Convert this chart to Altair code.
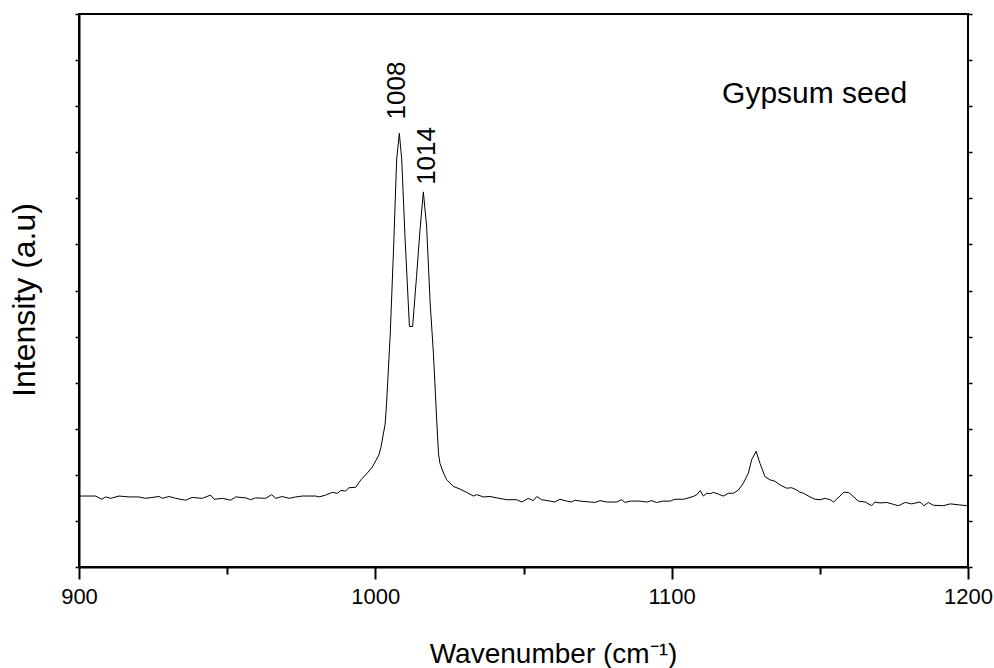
import altair as alt
import pandas as pd

# ---- data (Raman spectrum, gypsum seed) ----
wavenumber = [
    900.0, 905.6, 907.7, 909.0, 910.7, 913.5, 916.9, 920.2, 922.5, 927.0,
    928.1, 930.4, 932.6, 936.0, 938.2, 941.6, 944.4, 945.6, 948.4, 951.2,
    952.9, 956.3, 957.9, 959.6, 963.0, 965.0, 966.4, 968.6, 970.9, 973.1,
    975.4, 979.9, 981.0, 983.2, 985.5, 987.2, 988.3, 990.0, 991.1, 993.4,
    995.1, 997.3, 999.0, 1001.2, 1001.9, 1003.3, 1003.8, 1005.0, 1006.1, 1007.2,
    1008.1, 1008.9, 1010.0, 1011.5, 1012.6, 1013.9, 1015.1, 1016.2, 1017.3, 1018.5,
    1019.6, 1020.7, 1021.3, 1021.8, 1023.0, 1024.1, 1026.3, 1028.6, 1030.8, 1033.1,
    1034.2, 1036.5, 1038.7, 1041.0, 1044.3, 1047.7, 1049.4, 1051.6, 1053.3, 1054.5,
    1056.1, 1059.0, 1060.6, 1062.3, 1064.6, 1066.2, 1067.4, 1069.1, 1072.5, 1074.1,
    1075.8, 1078.1, 1081.4, 1083.1, 1084.3, 1086.0, 1089.3, 1091.6, 1093.3, 1094.9,
    1097.2, 1099.5, 1101.1, 1104.0, 1107.3, 1108.5, 1109.6, 1110.7, 1111.8, 1113.0,
    1114.1, 1115.8, 1117.5, 1119.1, 1120.8, 1122.5, 1124.2, 1125.9, 1127.0, 1128.5,
    1129.8, 1131.5, 1133.2, 1134.9, 1136.6, 1138.8, 1140.5, 1142.2, 1143.3, 1144.5,
    1146.7, 1148.4, 1150.1, 1151.8, 1153.5, 1154.6, 1156.8, 1158.0, 1159.6, 1161.3,
    1163.0, 1165.3, 1167.5, 1168.6, 1170.3, 1172.6, 1174.8, 1176.5, 1178.8, 1181.0,
    1183.8, 1185.2, 1186.6, 1188.3, 1191.7, 1194.0, 1196.8, 1199.6, 1200.0,
]
intensity = [
    1.54, 1.54, 1.47, 1.52, 1.49, 1.54, 1.52, 1.52, 1.49, 1.53,
    1.49, 1.53, 1.49, 1.45, 1.51, 1.49, 1.56, 1.47, 1.49, 1.45,
    1.52, 1.50, 1.46, 1.50, 1.49, 1.57, 1.49, 1.53, 1.49, 1.52,
    1.54, 1.54, 1.52, 1.56, 1.62, 1.60, 1.66, 1.65, 1.72, 1.73,
    1.89, 2.04, 2.17, 2.43, 2.60, 3.10, 3.56, 5.01, 6.82, 8.85,
    9.41, 8.85, 7.18, 5.22, 5.22, 6.30, 7.33, 8.14, 7.40, 5.73,
    4.64, 3.20, 2.47, 2.25, 2.04, 1.89, 1.75, 1.69, 1.62, 1.54,
    1.57, 1.52, 1.53, 1.50, 1.46, 1.46, 1.41, 1.49, 1.44, 1.53,
    1.46, 1.43, 1.41, 1.47, 1.43, 1.41, 1.45, 1.43, 1.41, 1.40,
    1.44, 1.41, 1.41, 1.46, 1.40, 1.43, 1.43, 1.41, 1.44, 1.40,
    1.43, 1.43, 1.47, 1.47, 1.53, 1.57, 1.66, 1.54, 1.60, 1.59,
    1.62, 1.58, 1.54, 1.60, 1.60, 1.67, 1.82, 2.04, 2.33, 2.51,
    2.25, 1.96, 1.89, 1.86, 1.78, 1.71, 1.72, 1.67, 1.62, 1.60,
    1.52, 1.47, 1.46, 1.49, 1.46, 1.41, 1.54, 1.62, 1.62, 1.53,
    1.43, 1.41, 1.33, 1.41, 1.39, 1.40, 1.36, 1.33, 1.40, 1.37,
    1.41, 1.33, 1.40, 1.34, 1.33, 1.37, 1.35, 1.33, 1.33,
]

peak_labels = ["1008", "1014"]
peak_label_wn = [1007.3, 1017.45]
peak_label_int = [10.34, 8.92]

sample_label = ["Gypsum seed"]
sample_label_wn = [1117.0]
sample_label_int = [10.07]

x_major = [900, 1000, 1100, 1200]
x_minor = [950, 1050, 1150]
y_ticks = list(range(0, 13))

FONT = "Liberation Sans"

spec_df = pd.DataFrame({"wn": wavenumber, "inten": intensity})
peaks_df = pd.DataFrame({"wn": peak_label_wn, "inten": peak_label_int, "label": peak_labels})
sample_df = pd.DataFrame({"wn": sample_label_wn, "inten": sample_label_int, "label": sample_label})

xscale = alt.Scale(domain=[900, 1200], nice=False, zero=False)
yscale = alt.Scale(domain=[0, 12], nice=False, zero=False)

line = alt.Chart(spec_df).mark_line(color="black", strokeWidth=1).encode(
    x=alt.X(
        "wn:Q", scale=xscale,
        axis=alt.Axis(
            orient="bottom", values=x_major, format="d", tickSize=12, tickWidth=2,
            tickColor="black", domain=True, domainColor="black", domainWidth=2,
            labelFont=FONT, labelFontSize=22, labelColor="black", labelPadding=7,
            labelFlush=False, labelOverlap=False, grid=False,
            title="Wavenumber (cm⁻¹)", titleFont=FONT, titleFontSize=28,
            titleFontWeight="normal", titleColor="black", titleX=474, titleY=95,
            titleAlign="center", titleBaseline="alphabetic",
        ),
    ),
    y=alt.Y(
        "inten:Q", scale=yscale,
        axis=alt.Axis(
            orient="left", values=y_ticks, tickSize=4, tickWidth=1.5, tickColor="black",
            labels=False, domain=True, domainColor="black", domainWidth=2, grid=False,
            title="Intensity (a.u)", titleFont=FONT, titleFontSize=32,
            titleFontWeight="normal", titleColor="black", titleAngle=270,
            titleX=-45, titleY=285.5, titleAlign="center", titleBaseline="alphabetic",
        ),
    ),
)

peaks = alt.Chart(peaks_df).mark_text(
    angle=270, font=FONT, fontSize=26, color="black", align="center", baseline="middle"
).encode(
    x=alt.X(
        "wn:Q", scale=xscale,
        axis=alt.Axis(
            orient="bottom", values=x_minor, tickSize=7, tickWidth=2, tickColor="black",
            labels=False, domain=False, grid=False, title=None,
        ),
    ),
    y=alt.Y(
        "inten:Q", scale=yscale,
        axis=alt.Axis(
            orient="right", values=y_ticks, tickSize=4, tickWidth=1.5, tickColor="black",
            labels=False, domain=False, grid=False, title=None,
        ),
    ),
    text="label:N",
)

sample = alt.Chart(sample_df).mark_text(
    font=FONT, fontSize=30, color="black", align="left", baseline="alphabetic"
).encode(
    x=alt.X("wn:Q", scale=xscale, axis=None),
    y=alt.Y("inten:Q", scale=yscale, axis=None),
    text="label:N",
)

chart = (
    alt.layer(line, peaks, sample)
    .resolve_axis(x="independent", y="independent")
    .properties(
        width=889, height=553,
        autosize=alt.AutoSizeParams(type="none"),
        padding={"left": 79, "top": 14, "right": 26, "bottom": 101},
        background="white",
    )
    .configure_view(stroke="black", strokeWidth=2)
)

chart.save("out.html", embed_options={"renderer": "svg", "actions": False})
